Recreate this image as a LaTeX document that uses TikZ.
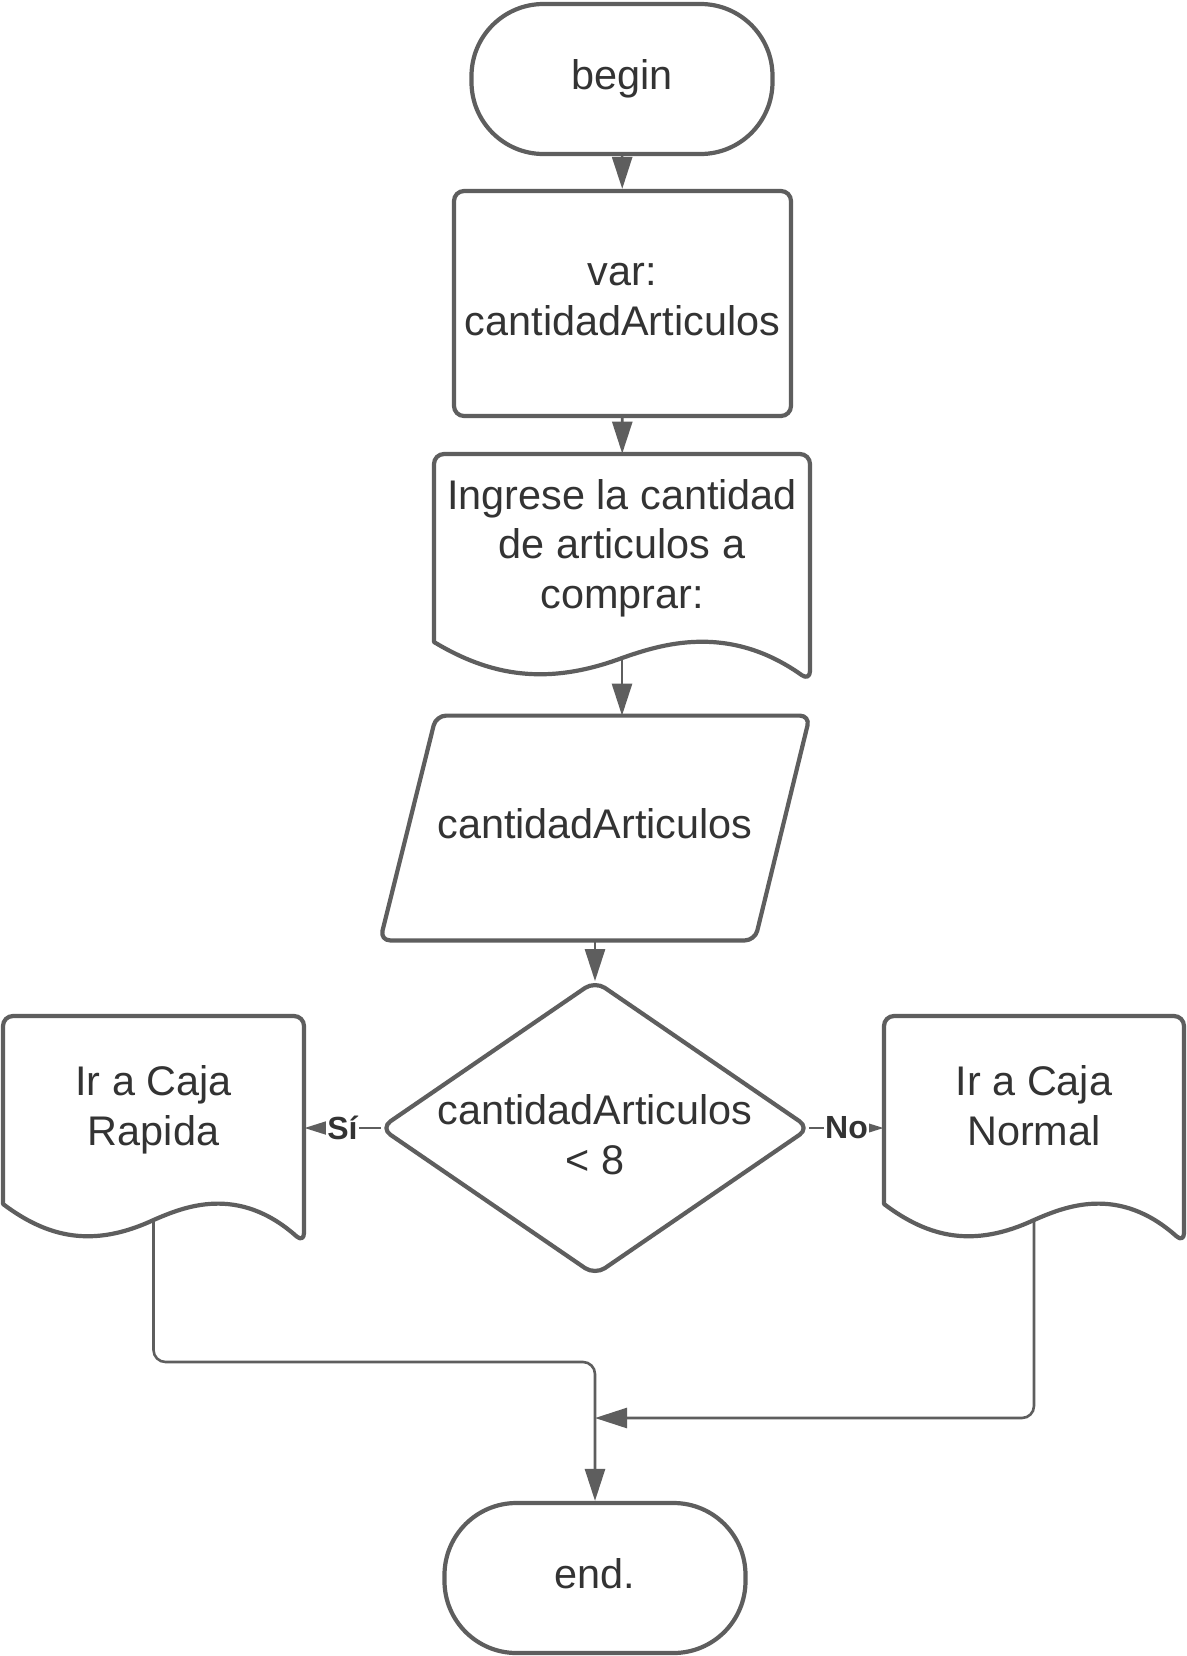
\documentclass[tikz,border=0pt]{standalone}
\usepackage{fontspec}
\setmainfont{Liberation Sans}
\usetikzlibrary{arrows.meta,calc}
\definecolor{linegray}{HTML}{5E5E5E}
\definecolor{textgray}{HTML}{333333}
\tikzset{
  shapeline/.style={draw=linegray, line width=2.1pt, line join=round},
  boxtext/.style={text=textgray, font=\fontsize{20.7}{24.8}\selectfont, align=center,
    execute at end node=\vphantom{p}},
  terminal/.style={shapeline, boxtext, rounded corners=36pt, minimum width=150.5pt, minimum height=75pt},
  process/.style={shapeline, boxtext, rounded corners=5pt, minimum width=168.5pt, minimum height=112.5pt},
  docbox/.style={minimum width=#1, minimum height=113.5pt, inner sep=0pt},
  flow/.style={draw=linegray, line width=1.3pt, -{Triangle[length=16pt,width=10pt]}},
  branch/.style={draw=linegray, line width=1.3pt, -{Triangle[length=11pt,width=6.5pt]}},
  branchlabel/.style={fill=white, text=textgray, font=\fontsize{16}{19}\selectfont\bfseries, inner sep=0.5pt},
}
% document shape: name, left, top, width, text
\newcommand{\docshape}[5]{%
  \node[docbox={#4*0.5pt}] (#1) at ({#2+#4/2},{#3+113.5}) {};
  \node[boxtext] (#1-text) at ({#2+#4/2},{#3+94}) {#5};
  \coordinate (#1-tail) at ({#2+#4/2},{#3+204});
  \draw[shapeline] (#2,{#3+188}) [rounded corners=5pt] -- (#2,#3) -- ({#2+#4},#3)
    -- ({#2+#4},{#3+227}) [sharp corners]
    .. controls ({#2+0.78*#4},{#3+168}) and ({#2+0.6*#4},{#3+191}) .. ({#2+0.5*#4},{#3+204})
    .. controls ({#2+0.3*#4},{#3+232}) and ({#2+0.15*#4},{#3+222}) .. (#2,{#3+188}) -- cycle;
}
\begin{document}
\begin{tikzpicture}[x=0.5pt, y=-0.5pt]
  \useasboundingbox[fill=white] (0,0) rectangle (1187,1656);

  \node[terminal] (begin) at (622,79) {begin};
  \node[process] (var) at (622.5,303.5) {var:\\cantidadArticulos};
  \docshape{ingrese}{434}{454}{376}{Ingrese la cantidad\\de articulos a\\comprar:}

  \node[boxtext, minimum width=214.5pt, minimum height=112pt] (input) at (595,828) {cantidadArticulos};
  \draw[shapeline, rounded corners=5pt] ($(input.north west)+(28pt,0)$) -- (input.north east)
    -- ($(input.south east)+(-27.5pt,0)$) -- (input.south west) -- cycle;

  \node[minimum width=214pt, minimum height=146.5pt, inner sep=0pt] (cond) at (595,1128) {};
  \node[boxtext] (cond-text) at (595,1139) {cantidadArticulos\\< 8};
  \draw[shapeline, rounded corners=6pt] (cond.north) -- (cond.east) -- (cond.south) -- (cond.west) -- cycle;

  \docshape{rapida}{3}{1016}{301}{Ir a Caja\\Rapida}
  \docshape{normal}{884}{1016}{300}{Ir a Caja\\Normal}

  \node[terminal] (end) at (595,1578) {end.};
  \coordinate (merge1) at (595,1362);
  \coordinate (merge2) at (595,1418);

  \foreach \a/\b in {begin/var, var/ingrese, input/cond}
    \draw[flow] (\a) -- (\b);
  \draw[flow] (ingrese-tail) -- (ingrese-tail |- input.north);

  \draw[branch] (cond.west) -- node[branchlabel] {Sí} (cond.west -| rapida.east);
  \draw[branch] (cond.east) -- node[branchlabel] {No} (cond.east -| normal.west);

  \draw[flow, rounded corners=6pt] (rapida-tail) |- (merge1) -- (end);
  \draw[flow, rounded corners=6pt] (normal-tail) |- (merge2);
\end{tikzpicture}
\end{document}
